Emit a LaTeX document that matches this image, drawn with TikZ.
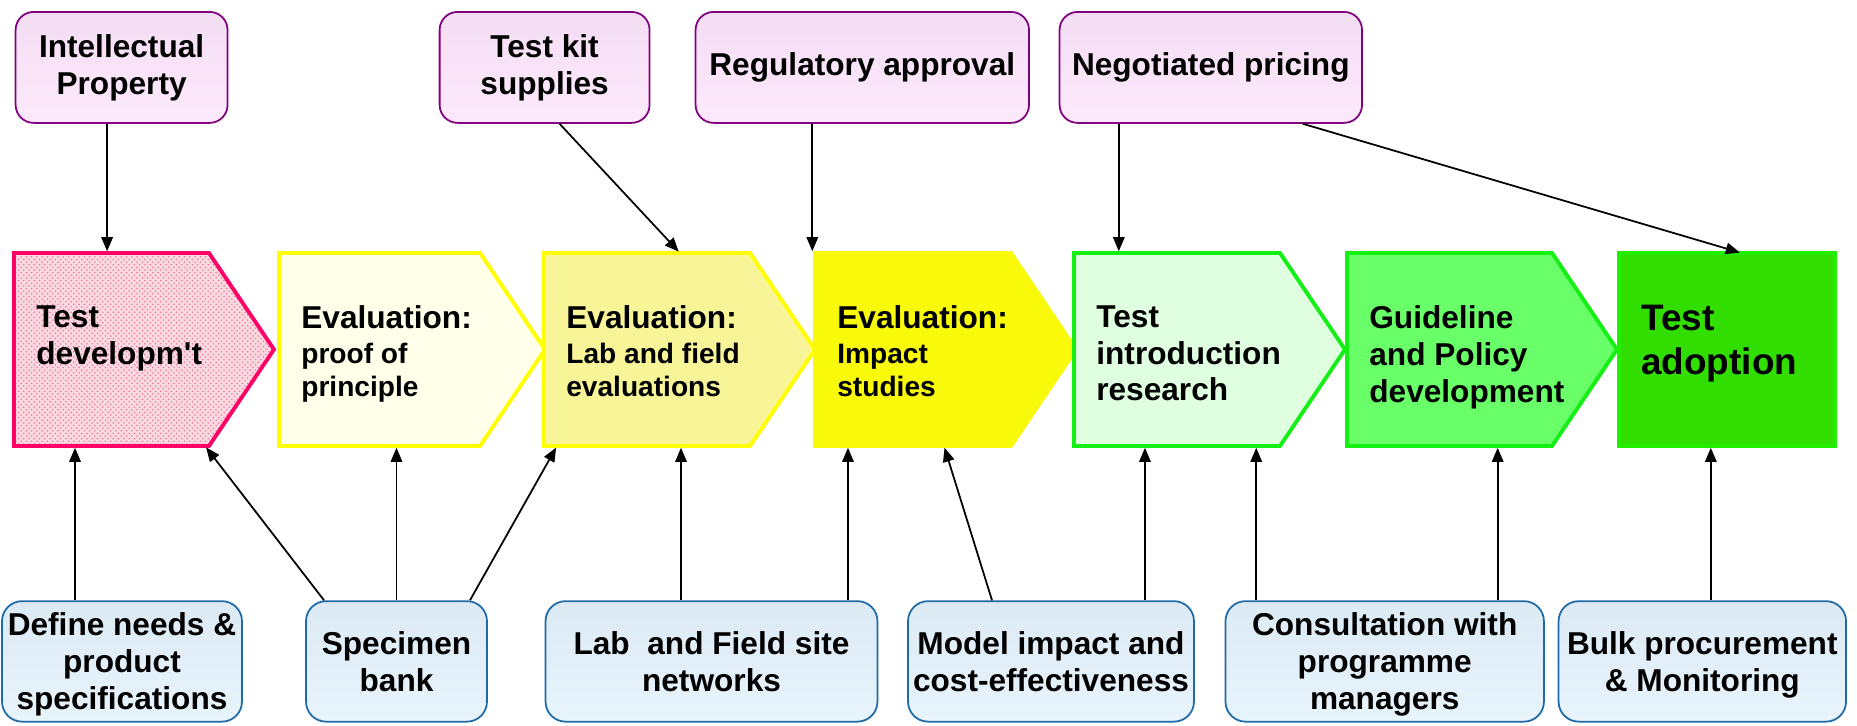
\documentclass[tikz,border=0pt]{standalone}
\usepackage{fontspec}
\setmainfont{Liberation Sans}
\usetikzlibrary{arrows.meta, fit, patterns}
\definecolor{devborder}{RGB}{255, 0, 102}
\definecolor{devfill}{RGB}{250, 218, 226}
\definecolor{devdots}{RGB}{238, 120, 152}
\definecolor{evalborder}{RGB}{255, 255, 0}
\definecolor{evalpale}{RGB}{255, 255, 234}
\definecolor{evallight}{RGB}{248, 245, 152}
\definecolor{evalstrong}{RGB}{249, 249, 10}
\definecolor{greenborder}{RGB}{20, 240, 20}
\definecolor{intropale}{RGB}{224, 255, 224}
\definecolor{policyfill}{RGB}{104, 255, 104}
\definecolor{adoptfill}{RGB}{50, 222, 0}
\definecolor{adoptborder}{RGB}{34, 238, 0}
\definecolor{resborder}{RGB}{128, 0, 128}
\definecolor{restop}{RGB}{243, 221, 243}
\definecolor{resbottom}{RGB}{253, 233, 252}
\definecolor{actborder}{RGB}{30, 106, 166}
\definecolor{acttop}{RGB}{220, 234, 244}
\definecolor{actbottom}{RGB}{232, 244, 252}

\begin{document}
\begin{tikzpicture}[
  x=0.02cm, y=-0.02cm,
  body/.style={inner sep=0pt, outer sep=0pt},
  stage/.style={line width=2.2pt, line join=miter},
  stagetext/.style={anchor=north west, inner sep=0pt, align=left,
                    font=\fontsize{18}{21}\selectfont\bfseries},
  evaltext/.style={stagetext, font=\fontsize{16}{19}\selectfont\bfseries},
  resource/.style={rectangle, rounded corners=0.36cm, draw=resborder, line width=1pt,
                   top color=restop, bottom color=resbottom, minimum height=2.22cm,
                   align=center, inner sep=2pt, font=\fontsize{18}{21}\selectfont\bfseries},
  activity/.style={rectangle, rounded corners=0.4cm, draw=actborder, line width=1pt,
                   top color=acttop, bottom color=actbottom, minimum height=2.41cm,
                   align=center, inner sep=2pt, font=\fontsize{18}{21}\selectfont\bfseries,
                   text depth=0pt},
  arrow/.style={-{Triangle[length=8pt,width=6.5pt]}, line width=1pt, shorten >=1pt},
]
  \useasboundingbox (0,0) rectangle (1857,726);

  % Stage bodies
  \node[body, fit={(14,253) (209,446)}] (s1) {};
  \node[body, fit={(279,253) (480,446)}] (s2) {};
  \node[body, fit={(544,253) (750,446)}] (s3) {};
  \node[body, fit={(815,253) (1011,446)}] (s4) {};
  \node[body, fit={(1074,253) (1280,446)}] (s5) {};
  \node[body, fit={(1347,253) (1552,446)}] (s6) {};
  \node[body, fit={(1619,253) (1835,446)}] (s7) {};

  \draw[stage, draw=devborder, preaction={fill=devfill}, pattern=crosshatch dots, pattern color=devdots]
    (s1.north west) -- (s1.north east) -- ([xshift=1.3cm]s1.east) -- (s1.south east) -- (s1.south west) -- cycle;
  \filldraw[stage, draw=evalborder, fill=evalpale]
    (s2.north west) -- (s2.north east) -- ([xshift=1.3cm]s2.east) -- (s2.south east) -- (s2.south west) -- cycle;
  \filldraw[stage, draw=evalborder, fill=evallight]
    (s3.north west) -- (s3.north east) -- ([xshift=1.3cm]s3.east) -- (s3.south east) -- (s3.south west) -- cycle;
  \filldraw[stage, draw=evalstrong, fill=evalstrong]
    (s4.north west) -- (s4.north east) -- ([xshift=1.3cm]s4.east) -- (s4.south east) -- (s4.south west) -- cycle;
  \filldraw[stage, draw=greenborder, fill=intropale]
    (s5.north west) -- (s5.north east) -- ([xshift=1.3cm]s5.east) -- (s5.south east) -- (s5.south west) -- cycle;
  \filldraw[stage, draw=greenborder, fill=policyfill]
    (s6.north west) -- (s6.north east) -- ([xshift=1.3cm]s6.east) -- (s6.south east) -- (s6.south west) -- cycle;
  \filldraw[stage, draw=adoptborder, fill=adoptfill] (s7.north west) rectangle (s7.south east);

  % Stage labels
  \node[stagetext] (t1) at ([shift={(22,52)}]s1.north west) {Test\\developm\textquotesingle t};
  \node[evaltext] (t2) at ([shift={(22,52)}]s2.north west)
    {{\fontsize{18}{21}\selectfont Evaluation:}\\[1pt]proof of\\principle};
  \node[evaltext] (t3) at ([shift={(22,52)}]s3.north west)
    {{\fontsize{18}{21}\selectfont Evaluation:}\\[1pt]Lab and field\\evaluations};
  \node[evaltext] (t4) at ([shift={(22,52)}]s4.north west)
    {{\fontsize{18}{21}\selectfont Evaluation:}\\[1pt]Impact\\studies};
  \node[stagetext] (t5) at ([shift={(22,52)}]s5.north west) {Test\\introduction\\research};
  \node[stagetext] (t6) at ([shift={(22,52)}]s6.north west) {Guideline\\and Policy\\development};
  \node[stagetext, font=\fontsize{21}{24.9}\selectfont\bfseries] (t7)
    at ([shift={(22,52)}]s7.north west) {Test\\adoption};

  % Inputs above
  \node[resource, minimum width=4.24cm] (ip) at (121.6,67.4) {Intellectual\\Property};
  \node[resource, minimum width=4.2cm] (kit) at (544.6,67.4) {Test kit\\supplies};
  \node[resource, minimum width=6.67cm] (reg) at (862.3,67.4) {Regulatory approval};
  \node[resource, minimum width=6.05cm] (neg) at (1210.8,67.4) {Negotiated pricing};

  % Supporting activities below
  \node[activity, minimum width=4.8cm] (def) at (122,661.4) {Define needs \&\\product\\specifications};
  \node[activity, minimum width=3.62cm] (spec) at (396.5,661.4) {Specimen\\bank};
  \node[activity, minimum width=6.64cm] (lab) at (711.5,661.4) {Lab~ and Field site\\networks};
  \node[activity, minimum width=5.72cm] (model) at (1051,661.4) {Model impact and\\cost-effectiveness};
  \node[activity, minimum width=6.37cm] (consult) at (1384.7,661.4) {Consultation with\\programme\\managers};
  \node[activity, minimum width=5.75cm] (bulk) at (1702.3,661.4) {Bulk procurement\\\& Monitoring};

  \draw[arrow] ([xshift=-0.29cm]ip.south) -- ([xshift=-0.29cm]ip.south |- s1.north);
  \draw[arrow] ([xshift=0.3cm]kit.south) -- ([xshift=2.72cm]s3.north west);
  \draw[arrow] ([xshift=-1cm]reg.south) -- ([xshift=-1cm]reg.south |- s4.north);
  \draw[arrow] ([xshift=-1.84cm]neg.south) -- ([xshift=-1.84cm]neg.south |- s5.north);
  \draw[arrow] ([xshift=1.84cm]neg.south) -- ([xshift=2.45cm]s7.north west);

  \draw[arrow] ([xshift=-0.94cm]def.north) -- ([xshift=-0.94cm]def.north |- s1.south);
  \draw[arrow] ([xshift=-1.45cm]spec.north) -- ([xshift=-0.08cm]s1.south east);
  \draw[arrow] (spec.north) -- (spec.north |- s2.south);
  \draw[arrow] ([xshift=1.47cm]spec.north) -- ([xshift=0.26cm]s3.south west);
  \draw[arrow] ([xshift=-0.61cm]lab.north) -- ([xshift=-0.61cm]lab.north |- s3.south);
  \draw[arrow] ([xshift=2.73cm]lab.north) -- ([xshift=2.73cm]lab.north |- s4.south);
  \draw[arrow] ([xshift=-1.18cm]model.north) -- ([xshift=2.58cm]s4.south west);
  \draw[arrow] ([xshift=1.88cm]model.north) -- ([xshift=1.88cm]model.north |- s5.south);
  \draw[arrow] ([xshift=-2.57cm]consult.north) -- ([xshift=-2.57cm]consult.north |- s5.south);
  \draw[arrow] ([xshift=2.26cm]consult.north) -- ([xshift=2.26cm]consult.north |- s6.south);
  \draw[arrow] ([xshift=0.17cm]bulk.north) -- ([xshift=0.17cm]bulk.north |- s7.south);
\end{tikzpicture}
\end{document}
